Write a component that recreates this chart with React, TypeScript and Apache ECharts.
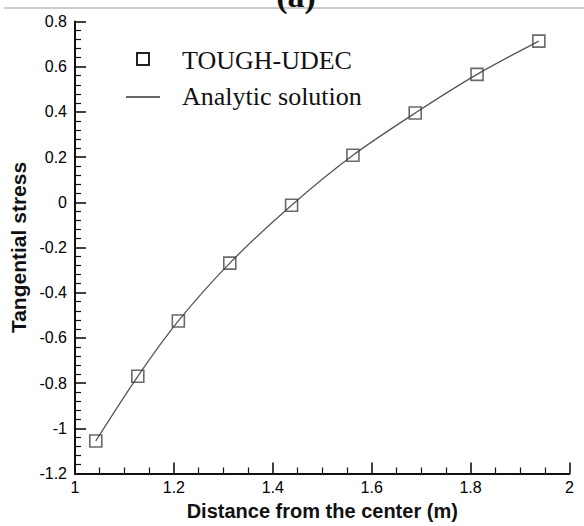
import React, { useEffect, useRef } from "react";
import * as echarts from "echarts";

const distances = [1.042, 1.127, 1.209, 1.313, 1.438, 1.562, 1.688, 1.813, 1.938];
const toughUdec = [-1.056, -0.77, -0.525, -0.269, -0.013, 0.208, 0.395, 0.566, 0.713];
const analytic = [-1.056, -0.77, -0.525, -0.269, -0.013, 0.208, 0.395, 0.566, 0.713];

const seriesNames = ["TOUGH-UDEC", "Analytic solution"];
const xTitle = "Distance from the center (m)";
const yTitle = "Tangential stress";
const panelLabel = "(a)";

const fmt = (v: number) => String(+v.toFixed(2));

export default function App() {
  const ref = useRef<HTMLDivElement>(null);
  useEffect(() => {
    if (!ref.current) return;
    const chart = echarts.init(ref.current, undefined, { renderer: "svg" });
    const sans = "Liberation Sans";
    const legendFont = "26px 'Liberation Serif'";
    chart.setOption({
      animation: false,
      backgroundColor: "#ffffff",
      grid: {
        left: 75,
        right: 14.5,
        top: 21.5,
        bottom: 52.5,
        containLabel: false,
        outerBoundsMode: "none",
      },
      legend: { show: false },
      graphic: [
        {
          type: "line",
          shape: { x1: 4, y1: 8, x2: 584, y2: 8 },
          style: { stroke: "#bdbdbd", lineWidth: 1.5 },
          z: 0,
        },
        {
          type: "text",
          x: 296,
          y: 12,
          style: {
            text: panelLabel,
            font: "bold 34px 'Liberation Serif'",
            fill: "#111",
            textAlign: "center",
            textVerticalAlign: "bottom",
          },
          z: 1,
        },
        {
          type: "rect",
          shape: { x: 137, y: 53, width: 12, height: 12 },
          style: { fill: "none", stroke: "#222", lineWidth: 2 },
          z: 5,
        },
        {
          type: "text",
          x: 182,
          y: 60,
          style: {
            text: seriesNames[0],
            font: legendFont,
            fill: "#111",
            textAlign: "left",
            textVerticalAlign: "middle",
          },
          z: 5,
        },
        {
          type: "line",
          shape: { x1: 126, y1: 97, x2: 160, y2: 97 },
          style: { stroke: "#333", lineWidth: 1.3 },
          z: 5,
        },
        {
          type: "text",
          x: 182,
          y: 96,
          style: {
            text: seriesNames[1],
            font: legendFont,
            fill: "#111",
            textAlign: "left",
            textVerticalAlign: "middle",
          },
          z: 5,
        },
      ],
      xAxis: {
        type: "value",
        min: 1,
        max: 2,
        interval: 0.2,
        name: xTitle,
        nameLocation: "middle",
        nameGap: 27,
        nameTextStyle: { fontFamily: sans, fontSize: 20, fontWeight: "bold", color: "#111" },
        axisLine: { show: true, onZero: false, lineStyle: { color: "#111", width: 2 } },
        axisTick: { show: true, inside: true, length: 11, lineStyle: { color: "#111", width: 1.6 } },
        minorTick: { show: true, splitNumber: 4, length: 6, lineStyle: { color: "#111", width: 1.2 } },
        axisLabel: { fontFamily: sans, fontSize: 16, color: "#000", margin: 6, formatter: fmt },
        splitLine: { show: false },
      },
      yAxis: {
        type: "value",
        min: -1.2,
        max: 0.8,
        interval: 0.2,
        name: yTitle,
        nameLocation: "middle",
        nameGap: 40,
        nameTextStyle: { fontFamily: sans, fontSize: 21, fontWeight: "bold", color: "#111" },
        axisLine: { show: true, onZero: false, lineStyle: { color: "#111", width: 2 } },
        axisTick: { show: true, inside: true, length: 11, lineStyle: { color: "#111", width: 1.6 } },
        minorTick: { show: true, splitNumber: 5, length: 6, lineStyle: { color: "#111", width: 1.2 } },
        axisLabel: { fontFamily: sans, fontSize: 16, color: "#000", margin: 8, formatter: fmt },
        splitLine: { show: false },
      },
      series: [
        {
          name: seriesNames[1],
          type: "line",
          data: distances.map((d, i) => [d, analytic[i]]),
          smooth: 0.3,
          symbol: "none",
          lineStyle: { color: "#555", width: 1.3 },
          itemStyle: { color: "#555" },
          z: 2,
        },
        {
          name: seriesNames[0],
          type: "scatter",
          data: distances.map((d, i) => [d, toughUdec[i]]),
          symbol: "rect",
          symbolSize: 12,
          itemStyle: { color: "transparent", borderColor: "#444", borderWidth: 1.6 },
          z: 3,
        },
      ],
    });
    return () => chart.dispose();
  }, []);
  return (
    <div
      ref={ref}
      style={{ position: "fixed", left: 0, top: 0, width: 584, height: 526, background: "#fff" }}
    />
  );
}
